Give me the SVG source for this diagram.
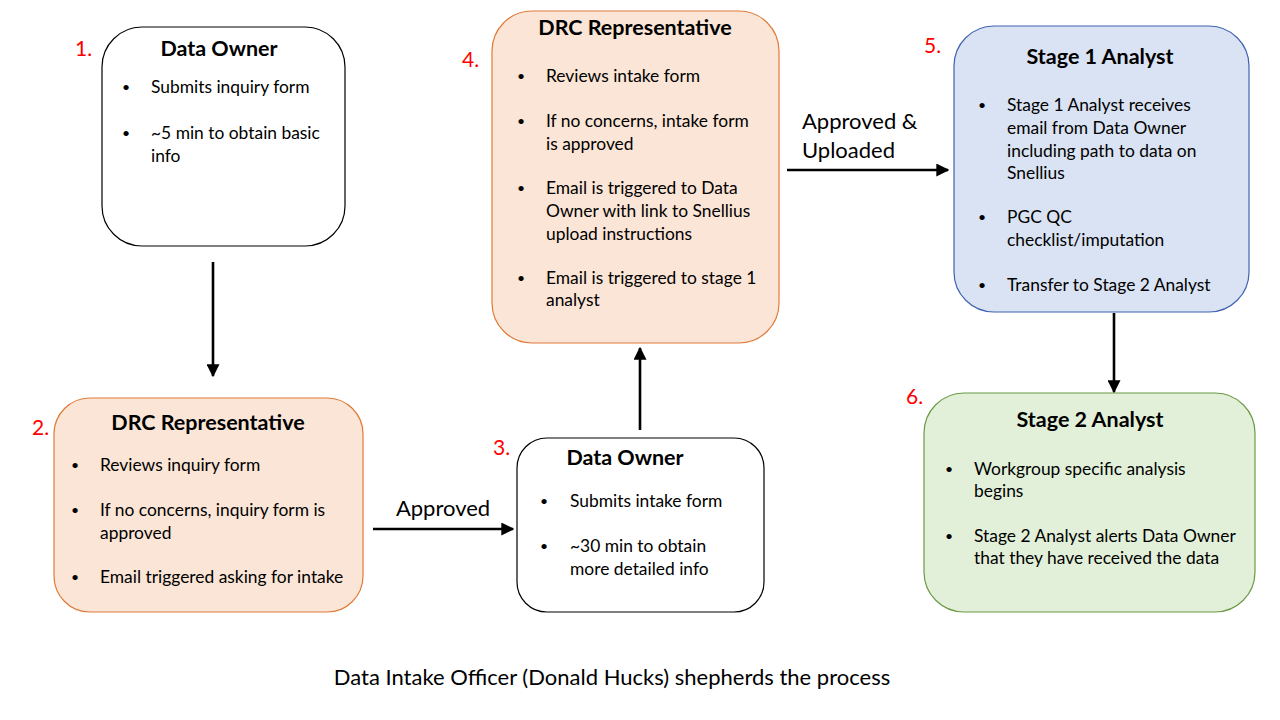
<svg xmlns="http://www.w3.org/2000/svg" width="1280" height="720" viewBox="0 0 1280 720">
<defs>
<marker id="ah" viewBox="0 0 10 10" refX="9" refY="5" markerWidth="5" markerHeight="5" markerUnits="strokeWidth" orient="auto">
<path d="M0,0 L10,5 L0,10 z" fill="#000"/>
</marker>
<style>
text{font-family:Lato,"Open Sans","Liberation Sans",sans-serif;fill:#000}
.t{font-size:21.5px;font-weight:bold;text-anchor:middle}
.b{font-size:17.4px}
.d{font-size:14px}
.n{font-size:21px;fill:#ff0000}
.l{font-size:22px}
.w{fill:#fff;stroke:#000;stroke-width:1.2}
.o{fill:#fbe5d6;stroke:#e07b3a;stroke-width:1.2}
.bl{fill:#dae3f3;stroke:#3f63b0;stroke-width:1.2}
.g{fill:#e2f0d9;stroke:#6a9a45;stroke-width:1.2}
.c{stroke:#000;stroke-width:2.6;fill:none;marker-end:url(#ah)}
</style>
</defs>
<rect width="1280" height="720" fill="#fff"/>
<g id="node1">
<rect class="w" x="102" y="27" width="243" height="219" rx="40"/>
<text class="n" x="75" y="56">1.</text>
<text class="t" x="219" y="56">Data Owner</text>
<text class="d"><tspan x="122" y="92">•</tspan><tspan x="122" y="138">•</tspan></text>
<text class="b"><tspan x="151" y="93">Submits inquiry form</tspan><tspan x="151" y="139">~5 min to obtain basic</tspan><tspan x="151" y="162">info</tspan></text>
</g>
<g id="node2">
<rect class="o" x="54" y="398" width="309" height="214" rx="36"/>
<text class="n" x="32" y="435">2.</text>
<text class="t" x="208" y="430">DRC Representative</text>
<text class="d"><tspan x="71" y="470">•</tspan><tspan x="71" y="515">•</tspan><tspan x="71" y="582">•</tspan></text>
<text class="b"><tspan x="100" y="471">Reviews inquiry form</tspan><tspan x="100" y="516">If no concerns, inquiry form is</tspan><tspan x="100" y="539">approved</tspan><tspan x="100" y="583">Email triggered asking for intake</tspan></text>
</g>
<g id="node3">
<rect class="w" x="517" y="438" width="247" height="174" rx="30"/>
<text class="n" x="493" y="455">3.</text>
<text class="t" x="625" y="465">Data Owner</text>
<text class="d"><tspan x="540" y="506">•</tspan><tspan x="540" y="551">•</tspan></text>
<text class="b"><tspan x="570" y="507">Submits intake form</tspan><tspan x="570" y="552">~30 min to obtain</tspan><tspan x="570" y="575">more detailed info</tspan></text>
</g>
<g id="node4">
<rect class="o" x="492" y="11" width="287" height="332" rx="40"/>
<text class="n" x="462" y="67">4.</text>
<text class="t" x="635" y="35">DRC Representative</text>
<text class="d"><tspan x="517" y="81">•</tspan><tspan x="517" y="126">•</tspan><tspan x="517" y="193">•</tspan><tspan x="517" y="283">•</tspan></text>
<text class="b"><tspan x="546" y="82">Reviews intake form</tspan><tspan x="546" y="127">If no concerns, intake form</tspan><tspan x="546" y="150">is approved</tspan><tspan x="546" y="194">Email is triggered to Data</tspan><tspan x="546" y="217">Owner with link to Snellius</tspan><tspan x="546" y="240">upload instructions</tspan><tspan x="546" y="284">Email is triggered to stage 1</tspan><tspan x="546" y="306">analyst</tspan></text>
</g>
<g id="node5">
<rect class="bl" x="954" y="26" width="295" height="286" rx="40"/>
<text class="n" x="924" y="53">5.</text>
<text class="t" x="1100" y="64">Stage 1 Analyst</text>
<text class="d"><tspan x="978" y="110">•</tspan><tspan x="978" y="222">•</tspan><tspan x="978" y="290">•</tspan></text>
<text class="b"><tspan x="1007" y="111">Stage 1 Analyst receives</tspan><tspan x="1007" y="134">email from Data Owner</tspan><tspan x="1007" y="157">including path to data on</tspan><tspan x="1007" y="179">Snellius</tspan><tspan x="1007" y="223">PGC QC</tspan><tspan x="1007" y="246">checklist/imputation</tspan><tspan x="1007" y="291">Transfer to Stage 2 Analyst</tspan></text>
</g>
<g id="node6">
<rect class="g" x="924" y="393" width="331" height="219" rx="40"/>
<text class="n" x="906" y="404">6.</text>
<text class="t" x="1090" y="427">Stage 2 Analyst</text>
<text class="d"><tspan x="945" y="474">•</tspan><tspan x="945" y="541">•</tspan></text>
<text class="b"><tspan x="974" y="475">Workgroup specific analysis</tspan><tspan x="974" y="497">begins</tspan><tspan x="974" y="542">Stage 2 Analyst alerts Data Owner</tspan><tspan x="974" y="564">that they have received the data</tspan></text>
</g>
<g id="connectors">
<line class="c" x1="213" y1="262" x2="213" y2="376"/>
<line class="c" x1="373" y1="529" x2="513" y2="529"/>
<line class="c" x1="640" y1="430" x2="640" y2="348"/>
<line class="c" x1="787" y1="170" x2="948" y2="170"/>
<line class="c" x1="1114" y1="313" x2="1114" y2="392"/>
<text class="l" x="443" y="516" text-anchor="middle">Approved</text>
<text class="l"><tspan x="802" y="129">Approved &amp;</tspan><tspan x="802" y="158">Uploaded</tspan></text>
</g>
<text class="l" x="612" y="685" text-anchor="middle">Data Intake Officer (Donald Hucks) shepherds the process</text>
</svg>
